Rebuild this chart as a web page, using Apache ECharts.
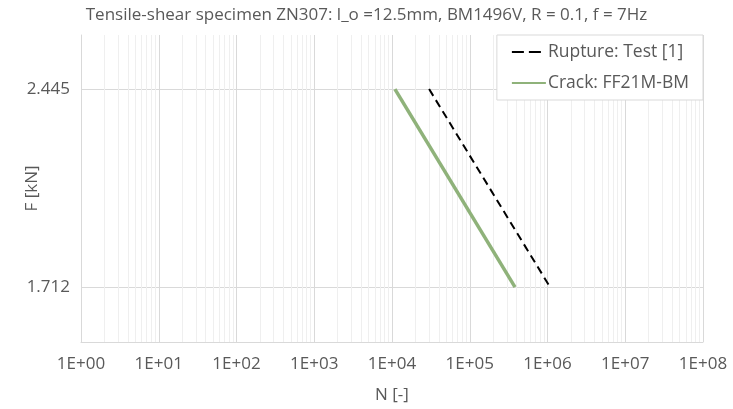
<!DOCTYPE html>
<html><head><meta charset="utf-8">
<script src="https://cdn.jsdelivr.net/npm/echarts@6/dist/echarts.min.js"></script>
<style>html,body{margin:0;padding:0;background:#fff}#c{width:733px;height:409px}</style>
</head><body><div id="c"></div>
<script>
const titleText = 'Tensile-shear specimen ZN307: l_o =12.5mm, BM1496V, R = 0.1, f = 7Hz';
const xTickLabels = ['1E+00','1E+01','1E+02','1E+03','1E+04','1E+05','1E+06','1E+07','1E+08'];
const xMajor = [1,1e1,1e2,1e3,1e4,1e5,1e6,1e7,1e8];
const yTicks = [1.712, 2.445];
const ruptureN = [3.0e4, 1.08e6];
const ruptureF = [2.445, 1.712];
const crackN = [1.09e4, 3.82e5];
const crackF = [2.445, 1.712];

const xMinor = [];
for (let k = 0; k < 8; k++) for (let m = 2; m <= 9; m++) xMinor.push(m * Math.pow(10, k));

const font = '"Open Sans", "Liberation Sans", sans-serif';
const txt = '#595959';
const chart = echarts.init(document.getElementById('c'));
chart.setOption({
  animation: false,
  title: { text: titleText, left: 'center', top: 2,
    textStyle: { fontFamily: font, fontSize: 17, fontWeight: 'normal', color: txt } },
  grid: { left: 81, right: 30, top: 35, bottom: 67, containLabel: false, outerBoundsMode: 'none' },
  legend: {
    orient: 'vertical', right: 30, top: 35, padding: [8, 14, 8, 14], itemGap: 13,
    backgroundColor: '#fff', borderColor: '#d9d9d9', borderWidth: 1, borderRadius: 0,
    itemWidth: 34, itemHeight: 14, itemStyle: { opacity: 0 },
    textStyle: { fontFamily: font, fontSize: 17.5, color: txt, padding: [0,0,0,-3] },
    data: [
      { name: 'Rupture: Test [1]', lineStyle: { type: [12, 5], width: 2 } },
      { name: 'Crack: FF21M-BM' }
    ]
  },
  xAxis: [
    { type: 'log', logBase: 10, min: 1, max: 1e8, name: 'N [-]', nameLocation: 'middle', nameGap: 45,
      nameMoveOverlap: false,
      nameTextStyle: { fontFamily: font, fontSize: 17, color: txt },
      axisLine: { show: true, lineStyle: { color: '#d9d9d9' } },
      axisTick: { show: false, customValues: xMajor },
      axisLabel: { customValues: xMajor, margin: 14, fontFamily: font, fontSize: 17, color: txt,
        formatter: v => xTickLabels[xMajor.findIndex(t => Math.abs(Math.log10(t) - Math.log10(v)) < 1e-6)] },
      splitLine: { show: true, lineStyle: { color: '#d9d9d9', width: 1 } }, z: 2 },
    { type: 'log', logBase: 10, min: 1, max: 1e8, position: 'bottom',
      axisLine: { show: false }, axisLabel: { show: false },
      axisTick: { show: false, customValues: xMinor },
      splitLine: { show: true, lineStyle: { color: '#efefef', width: 1 } }, z: 1 }
  ],
  yAxis: { type: 'value', min: 1.509, max: 2.645, name: 'F [kN]', nameLocation: 'middle', nameGap: 40,
    nameMoveOverlap: false,
    nameTextStyle: { fontFamily: font, fontSize: 17, color: txt },
    axisLine: { show: true, lineStyle: { color: '#d9d9d9' } },
    axisTick: { show: false, customValues: yTicks },
    axisLabel: { customValues: yTicks, margin: 11, fontFamily: font, fontSize: 17, color: txt,
      formatter: v => v.toFixed(3) },
    splitLine: { show: true, lineStyle: { color: '#d9d9d9' } } },
  series: [
    { name: 'Rupture: Test [1]', type: 'line', xAxisIndex: 0, symbol: 'none',
      data: ruptureN.map((n, i) => [n, ruptureF[i]]),
      lineStyle: { color: '#000', width: 2, type: [8, 5] }, itemStyle: { color: '#000' }, z: 5 },
    { name: 'Crack: FF21M-BM', type: 'line', xAxisIndex: 0, symbol: 'none',
      data: crackN.map((n, i) => [n, crackF[i]]),
      lineStyle: { color: '#8fb27a', width: 3.5 }, itemStyle: { color: '#8fb27a' }, z: 4 }
  ]
});
</script></body></html>
